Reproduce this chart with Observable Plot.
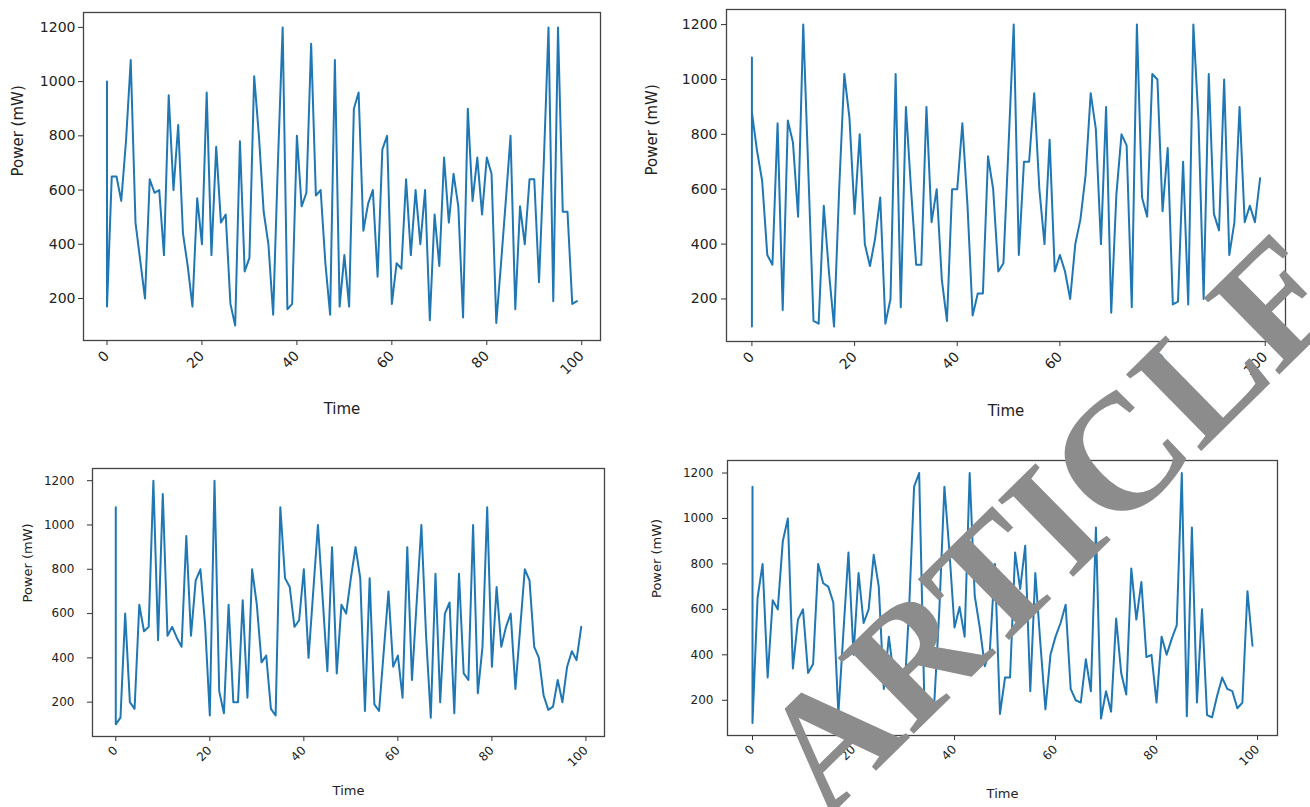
<!DOCTYPE html>
<html><head><meta charset="utf-8">
<script src="https://cdn.jsdelivr.net/npm/d3@7"></script>
<script src="https://cdn.jsdelivr.net/npm/@observablehq/plot@0.6"></script>
<style>
body{margin:0;background:#fff;}
#wrap{position:relative;width:1310px;height:807px;overflow:hidden;background:#fff;}
.panel{position:absolute;}
#wm{position:absolute;left:0;top:0;pointer-events:none;}
</style></head><body><div id="wrap"></div>
<script>
// Values at time 0 (several samples share t = 0), then t = 1..99
const panel1Start = [1000, 170];
const panel1 = [650,650,560,780,1080,480,340,200,640,590,
600,360,950,600,840,440,320,170,570,400,
960,360,760,480,510,180,100,780,300,350,
1020,800,520,400,140,700,1200,160,180,800,
540,590,1140,580,600,330,140,1080,170,360,
170,900,960,450,550,600,280,750,800,180,
330,310,640,360,600,400,600,120,510,320,
720,480,660,540,130,900,560,720,510,720,
660,110,330,560,800,160,540,400,640,640,
260,700,1200,190,1200,520,520,180,190];

const panel2Start = [1080, 100, 880];
const panel2 = [740,630,360,325,840,160,850,770,500,1200,
660,120,110,540,300,100,600,1020,860,510,
800,400,320,420,570,110,200,1020,170,900,
600,325,325,900,480,600,270,120,600,600,
840,540,140,220,220,720,600,300,330,760,
1200,360,700,700,950,600,400,780,300,360,
300,200,400,490,650,950,820,400,900,150,
580,800,760,170,1200,570,500,1020,1000,520,
750,180,190,700,180,1200,850,200,1020,510,
450,1000,360,480,900,480,540,480,640];

const panel3Start = [1080, 100];
const panel3 = [130,600,200,170,640,520,540,1200,480,1140,
500,540,490,450,950,500,750,800,550,140,
1200,250,150,640,200,200,660,220,800,640,
380,410,170,140,1080,760,720,540,570,800,
400,700,1000,670,340,900,330,640,600,760,
900,760,160,760,190,160,430,700,360,410,
220,900,300,650,1000,500,130,780,200,600,
650,150,780,330,300,1000,240,450,1080,360,
720,450,540,600,260,530,800,750,450,400,
230,165,180,300,200,360,430,390,540];

const panel4Start = [1140, 100];
const panel4 = [650,800,300,640,600,900,1000,340,555,600,
320,360,800,715,700,630,140,500,850,400,
760,540,600,840,700,250,480,300,350,200,
600,1140,1200,220,145,190,600,1140,850,520,
610,480,1200,660,520,350,420,800,140,300,
300,850,690,880,240,760,450,160,400,480,
540,620,250,200,190,380,240,960,120,240,
150,560,320,225,780,555,720,390,400,190,
480,400,470,530,1200,130,960,190,600,135,
125,220,300,250,240,165,190,680,440];

const xTicks = [0, 20, 40, 60, 80, 100];
const yTicks = [200, 400, 600, 800, 1000, 1200];
const xLabel = "Time";
const yLabel = "Power (mW)";
const watermark = "ARTICLE";

function rows(start, vals) {
  return [...start.map(v => ({time: 0, power: v})), ...vals.map((v, i) => ({time: i + 1, power: v}))];
}

const panels = [
  {data: rows(panel1Start, panel1), left: 0, top: 0, width: 620, height: 420, ml: 83, mr: 20, mt: 12, mb: 80, fs: 14, lfs: 15, ylx: -65, xly: 73, ytp: 3, xtp: 8},
  {data: rows(panel2Start, panel2), left: 640, top: 0, width: 665, height: 420, ml: 86, mr: 20, mt: 9, mb: 79, fs: 14, lfs: 15, ylx: -74, xly: 74, ytp: 4, xtp: 8},
  {data: rows(panel3Start, panel3), left: 0, top: 440, width: 624, height: 367, ml: 92, mr: 20, mt: 28, mb: 71, fs: 12, lfs: 13, ylx: -65, xly: 58, ytp: 13, xtp: 7},
  {data: rows(panel4Start, panel4), left: 640, top: 440, width: 657, height: 367, ml: 87, mr: 20, mt: 20, mb: 72, fs: 12, lfs: 13, ylx: -71, xly: 62, ytp: 9, xtp: 7}
];

const wrap = document.getElementById("wrap");
for (const p of panels) {
  const chart = Plot.plot({
    width: p.width, height: p.height,
    marginLeft: p.ml, marginRight: p.mr, marginTop: p.mt, marginBottom: p.mb,
    style: {fontFamily: "DejaVu Sans", fontSize: p.fs + "px", color: "#222", background: "transparent"},
    x: {domain: [-4.95, 103.95]},
    y: {domain: [45, 1255]},
    marks: [
      Plot.axisX({ticks: xTicks, tickFormat: d => String(d), tickSize: 5, tickPadding: p.xtp, tickRotate: -45, label: null, stroke: "#333", fontSize: p.fs}),
      Plot.axisY({ticks: yTicks, tickFormat: d => String(d), tickSize: 5, tickPadding: p.ytp, label: null, stroke: "#333", fontSize: p.fs}),
      Plot.line(p.data, {x: "time", y: "power", stroke: "#1f77b4", strokeWidth: 2}),
      Plot.frame({stroke: "#444", strokeWidth: 1.3}),
      Plot.text([xLabel], {frameAnchor: "bottom", dy: p.xly, fontSize: p.lfs, fill: "#222"}),
      Plot.text([yLabel], {frameAnchor: "left", dx: p.ylx, rotate: -90, fontSize: p.lfs, fill: "#222"})
    ]
  });
  chart.classList.add("panel");
  chart.style.left = p.left + "px";
  chart.style.top = p.top + "px";
  wrap.appendChild(chart);
}

// Watermark overlay
const ns = "http://www.w3.org/2000/svg";
const svg = document.createElementNS(ns, "svg");
svg.setAttribute("id", "wm");
svg.setAttribute("width", 1310);
svg.setAttribute("height", 807);
const t = document.createElementNS(ns, "text");
t.setAttribute("x", 1052);
t.setAttribute("y", 520);
t.setAttribute("text-anchor", "middle");
t.setAttribute("dominant-baseline", "central");
t.setAttribute("transform", "rotate(-44.5 1052 520)");
t.setAttribute("font-family", "Liberation Serif");
t.setAttribute("font-weight", "bold");
t.setAttribute("font-size", 164);
t.setAttribute("fill", "#8c8c8c");
t.textContent = watermark;
svg.appendChild(t);
wrap.appendChild(svg);
</script>
</body></html>
